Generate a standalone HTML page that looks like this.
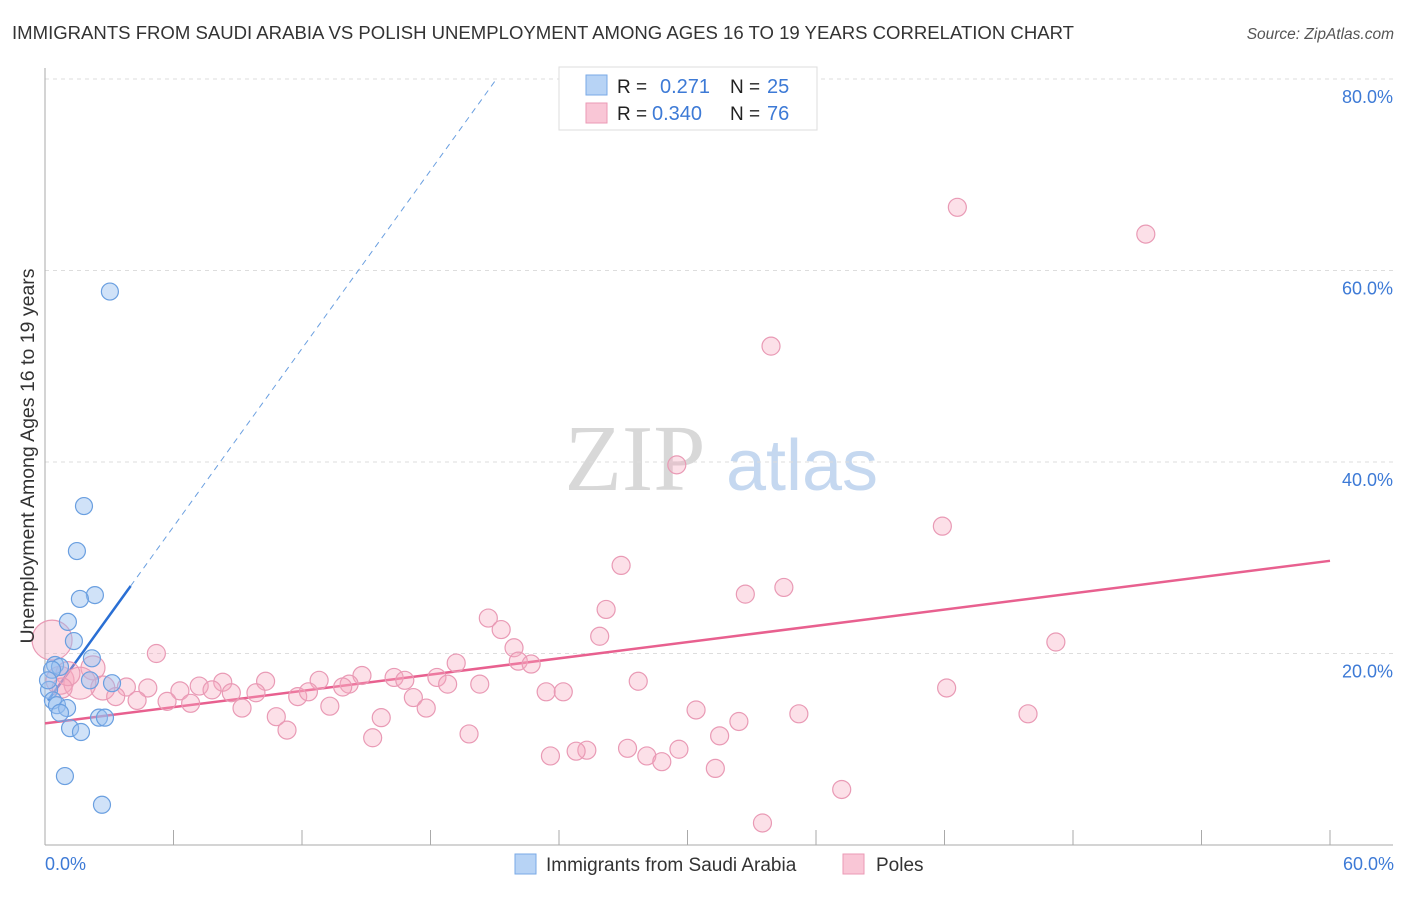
<!DOCTYPE html>
<html><head><meta charset="utf-8"><style>
body{margin:0;background:#fff;font-family:"Liberation Sans",sans-serif;}
</style></head><body>
<svg id="chart" width="1406" height="892" xmlns="http://www.w3.org/2000/svg">
<text x="12" y="39" font-size="18" fill="#333" textLength="1062" lengthAdjust="spacingAndGlyphs">IMMIGRANTS FROM SAUDI ARABIA VS POLISH UNEMPLOYMENT AMONG AGES 16 TO 19 YEARS CORRELATION CHART</text>
<text x="1394" y="39" font-size="15.5" fill="#555" font-style="italic" text-anchor="end">Source: ZipAtlas.com</text>
<g>
<text x="635" y="490" font-family="Liberation Serif,serif" font-size="94" fill="#d8d8d8" text-anchor="middle">ZIP</text>
<text x="802" y="490" font-size="72" fill="#c5d8f0" text-anchor="middle">atlas</text>
</g>
<g id="grid"></g><g id="axes"></g><g id="lines"></g><g id="pts"></g>
<text transform="translate(34,456) rotate(-90)" font-size="19.5" fill="#333" text-anchor="middle">Unemployment Among Ages 16 to 19 years</text>
<text x="45" y="870" font-size="18" fill="#3d7ad6">0.0%</text>
<text x="1394" y="870" font-size="18" fill="#3d7ad6" text-anchor="end">60.0%</text>
<g>
<rect x="559" y="67" width="258" height="63" fill="#fff" stroke="#ddd"/>
<rect x="586" y="75" width="21" height="20" fill="#b7d3f5" stroke="#7aa9e6"/>
<rect x="586" y="103" width="21" height="20" fill="#f9c6d6" stroke="#eb9ab5"/>
<text x="617" y="93" font-size="19" fill="#222">R =</text><text x="660" y="93" font-size="20" fill="#3d7ad6">0.271</text>
<text x="730" y="93" font-size="19" fill="#222">N =</text><text x="767" y="93" font-size="20" fill="#3d7ad6">25</text>
<text x="617" y="120" font-size="19" fill="#222">R =</text><text x="652" y="120" font-size="20" fill="#3d7ad6">0.340</text>
<text x="730" y="120" font-size="19" fill="#222">N =</text><text x="767" y="120" font-size="20" fill="#3d7ad6">76</text>
</g>
<g>
<rect x="515" y="854" width="21" height="20" fill="#b7d3f5" stroke="#7aa9e6"/>
<text x="546" y="871" font-size="19" fill="#333">Immigrants from Saudi Arabia</text>
<rect x="843" y="854" width="21" height="20" fill="#f9c6d6" stroke="#eb9ab5"/>
<text x="876" y="871" font-size="19" fill="#333">Poles</text>
</g>
</svg>
<script>
const yTicks=[20,40,60,80];
const yTickLabels=["20.0%","40.0%","60.0%","80.0%"];
const xTicks=[0,6,12,18,24,30,36,42,48,54,60];
const blueX=[3.03,1.82,1.49,2.33,1.63,1.07,1.35,2.19,0.47,0.70,0.33,3.13,2.1,0.19,0.37,0.56,1.03,0.7,2.52,2.8,1.17,1.68,0.93,2.66,0.14];
const blueY=[57.8,35.4,30.7,26.1,25.7,23.3,21.3,19.5,18.8,18.6,18.3,16.9,17.2,16.2,15.1,14.6,14.3,13.8,13.3,13.3,12.2,11.8,7.2,4.2,17.2];
const pinkX=[42.6,51.4,33.9,29.5,41.9,26.9,34.5,32.7,26.2,20.7,21.3,25.9,47.2,0.33,5.2,21.9,22.1,22.7,19.2,2.24,14.8,16.3,18.3,16.8,12.8,10.3,8.3,7.2,27.7,20.3,18.8,14.2,13.9,4.8,3.8,6.3,7.8,8.7,9.85,42.1,23.4,24.2,2.7,11.8,3.3,12.3,17.2,4.3,5.7,6.8,9.2,13.3,17.8,30.4,10.8,15.7,35.2,45.9,32.4,11.3,19.8,31.5,15.3,27.2,29.6,25.3,24.8,28.1,23.6,28.8,31.3,37.2,33.5,0.7,1.63,1.07,0.8];
const pinkY=[66.6,63.8,52.1,39.7,33.3,29.2,26.9,26.2,24.6,23.7,22.5,21.8,21.2,21.4,20.0,20.6,19.2,18.9,19.0,18.5,17.7,17.5,17.5,17.2,17.2,17.1,17.0,16.6,17.1,16.8,16.8,16.8,16.5,16.4,16.5,16.1,16.2,15.9,15.9,16.4,16.0,16.0,16.4,15.5,15.5,16.0,15.4,15.1,15.0,14.8,14.3,14.5,14.3,14.1,13.4,13.3,13.7,13.7,12.9,12.0,11.6,11.4,11.2,10.1,10.0,9.9,9.8,9.3,9.3,8.7,8.0,5.8,2.3,17.2,16.9,17.9,16.4];
const pinkR=[9,9,9,9,9,9,9,9,9,9,9,9,9,20,9,9,9,9,9,12,9,9,9,9,9,9,9,9,9,9,9,9,9,9,9,9,9,9,9,9,9,9,12,9,9,9,9,9,9,9,9,9,9,9,9,9,9,9,9,9,9,9,9,9,9,9,9,9,9,9,9,9,9,14,16,12,10];
const blueTrend=[14.65,3.1]; const pinkTrend=[12.7,0.283];
const NS="http://www.w3.org/2000/svg";
const sx=v=>45+v*1285/60, sy=v=>845-v*9.575;
function mk(t,a,p){const e=document.createElementNS(NS,t);for(const k in a)e.setAttribute(k,a[k]);document.getElementById(p).appendChild(e);return e;}
yTicks.forEach((t,i)=>{
 const g=mk('line',{x1:45,x2:1393,y1:sy(t),y2:sy(t),stroke:'#ddd','stroke-dasharray':'4,4'},'grid');
 
 
 const l=mk('text',{x:1393,y:sy(t)+24,'font-size':18,fill:'#3d7ad6','text-anchor':'end'},'grid');l.textContent=yTickLabels[i];
 
 
});
const ya=mk('line',{x1:45,x2:45,y1:68,y2:845,stroke:'#aaa'},'axes');


const xa=mk('line',{x1:45,x2:1393,y1:845,y2:845,stroke:'#aaa'},'axes');


xTicks.forEach(t=>{const e=mk('line',{x1:sx(t),x2:sx(t),y1:830,y2:845,stroke:'#aaa'},'axes');
 
 });
const bEnd=4.0, bDashEnd=(80-blueTrend[0])/blueTrend[1];
let e=mk('line',{x1:sx(0.14),y1:sy(blueTrend[0]+blueTrend[1]*0.14),x2:sx(bEnd),y2:sy(blueTrend[0]+blueTrend[1]*bEnd),stroke:'#2a6fd4','stroke-width':2.5},'lines');


e=mk('line',{x1:sx(bEnd),y1:sy(blueTrend[0]+blueTrend[1]*bEnd),x2:sx(bDashEnd),y2:sy(80),stroke:'#6a9fe0','stroke-width':1,'stroke-dasharray':'6,5'},'lines');


e=mk('line',{x1:sx(0),y1:sy(pinkTrend[0]),x2:sx(60),y2:sy(pinkTrend[0]+pinkTrend[1]*60),stroke:'#e8608f','stroke-width':2.5},'lines');


pinkX.forEach((x,i)=>{const c=mk('circle',{cx:sx(x),cy:sy(pinkY[i]),r:pinkR[i],fill:'rgba(245,165,190,0.35)',stroke:'#e99ab5','stroke-width':1.2},'pts');
 
 });
blueX.forEach((x,i)=>{const c=mk('circle',{cx:sx(x),cy:sy(blueY[i]),r:8.5,fill:'rgba(150,190,240,0.45)',stroke:'#6a9fe0','stroke-width':1.2},'pts');
 
 });
</script>
</body></html>
